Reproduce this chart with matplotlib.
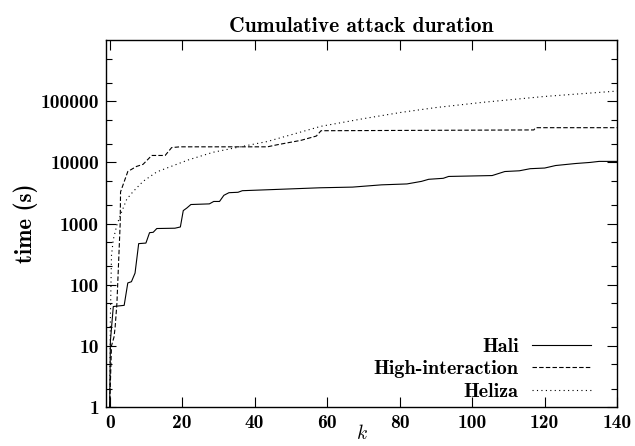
import matplotlib
matplotlib.use("Agg")
import matplotlib.pyplot as plt
from matplotlib.ticker import FixedLocator, NullFormatter

plt.rcParams['mathtext.fontset'] = 'cm'

# Data (k, cumulative seconds)
hali_k = [0, 0.2, 1, 4, 5, 6, 7, 8, 10, 11, 12, 13, 18, 19.5, 20.3, 21.3, 22.4, 27.5,
          28.7, 30.3, 31.5, 32.9, 35.4, 36.6, 45, 58, 67, 75, 82, 86, 88, 92, 93.5,
          105.5, 109, 113, 116, 120, 123, 128.5, 132.5, 135, 140]
hali_v = [1, 12, 44, 46, 107, 112, 155, 470, 480, 710, 720, 830, 840, 880, 1630, 1800,
          2050, 2100, 2300, 2300, 2900, 3200, 3250, 3450, 3600, 3850, 3950, 4300, 4450,
          4900, 5300, 5500, 5900, 6100, 7100, 7300, 7900, 8100, 8900, 9600, 10000,
          10400, 10400]

hi_k = [0, 0.5, 1.2, 1.5, 2, 2.9, 3, 5, 7.4, 9.2, 11.6, 15.3, 17.1, 19.4, 43.5, 46.3,
        52.8, 57, 58.3, 117, 117.5, 140]
hi_v = [1, 10, 14, 20, 50, 1000, 3300, 7100, 8600, 9300, 13000, 13000, 17500, 18000,
        18000, 19500, 23000, 27000, 33000, 34000, 37000, 37000]

heliza_k = [0, 0.2, 0.5, 1, 2, 3, 4.7, 6.4, 9.2, 13, 16.7, 21.7, 28.6, 36, 43.5, 58.3,
            70, 80.5, 90, 102.8, 120, 140]
heliza_v = [1, 30, 300, 550, 950, 1400, 2500, 3300, 4900, 7000, 8500, 11000, 14700,
            18000, 22000, 39000, 52000, 66000, 79000, 96000, 120000, 147000]

series_labels = ["Hali", "High-interaction", "Heliza"]
x_ticks = [0, 20, 40, 60, 80, 100, 120, 140]
y_ticks = [1, 10, 100, 1000, 10000, 100000]
y_tick_labels = ["1", "10", "100", "1000", "10000", "100000"]

BF = 'cmb10'
FS_TICK = 14
FS_LEG = 14.5
FS_TITLE = 15.5
FS_YLAB = 16.5

fig = plt.figure(figsize=(6.35, 4.46), dpi=100)
ax = fig.add_axes([0.167, 0.0874, 0.805, 0.8226])

lw = 0.8
ax.plot(hali_k, hali_v, color='black', lw=lw, ls='-', label=series_labels[0])
ax.plot(hi_k, hi_v, color='black', lw=lw, ls=(0, (4, 2)), label=series_labels[1])
ax.plot(heliza_k, heliza_v, color='black', lw=lw, ls=(0, (1, 3)), label=series_labels[2])

ax.set_yscale('log')
ax.set_xlim(-1, 140)
ax.set_ylim(1, 1e6)

ax.set_xticks(x_ticks)
ax.set_xticklabels([str(t) for t in x_ticks], fontfamily=BF, fontsize=FS_TICK)
ax.yaxis.set_major_locator(FixedLocator(y_ticks))
ax.set_yticklabels(y_tick_labels, fontfamily=BF, fontsize=FS_TICK)
minors = []
for d in [1, 10, 100, 1000, 10000, 100000]:
    minors += [2 * d, 5 * d]
ax.yaxis.set_minor_locator(FixedLocator(minors))
ax.yaxis.set_minor_formatter(NullFormatter())
ax.xaxis.set_minor_locator(FixedLocator([]))

ax.tick_params(axis='both', which='major', direction='in', length=7, width=0.8,
               top=True, right=True, pad=5)
ax.tick_params(axis='y', which='minor', direction='in', length=4, width=0.8, right=True)
for s in ax.spines.values():
    s.set_linewidth(1.0)

ax.set_title("Cumulative attack duration", fontfamily=BF, fontsize=FS_TITLE, pad=6)
ax.set_ylabel("time (s)", fontfamily=BF, fontsize=FS_YLAB, labelpad=2)
ax.set_xlabel("$k$", fontsize=14, labelpad=-6)

leg = ax.legend(loc='lower right', frameon=False, markerfirst=False,
                prop={'family': BF, 'size': FS_LEG}, handlelength=2.95,
                handletextpad=0.65, labelspacing=0.22, borderaxespad=0.0,
                borderpad=0.3, bbox_to_anchor=(0.961, 0.0))

fig.savefig("out.png", dpi=100)
